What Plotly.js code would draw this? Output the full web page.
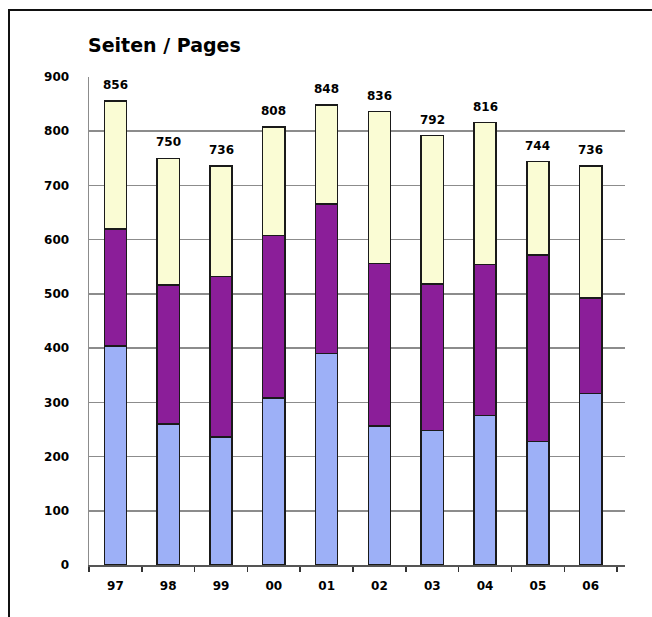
<!DOCTYPE html>
<html>
<head>
<meta charset="utf-8">
<script src="https://cdn.plot.ly/plotly-3.0.1.min.js"></script>
<style>
  html, body { margin: 0; padding: 0; background: #fff; }
  #wrap { position: relative; width: 652px; height: 617px; }
  #chart { width: 652px; height: 617px; }
  #frame { position: absolute; left: 8px; top: 9px; width: 644px; height: 608px;
           border-top: 2px solid #111; border-left: 2px solid #111; box-sizing: border-box; pointer-events: none; }
</style>
</head>
<body>
<div id="wrap">
  <div id="chart"></div>
  <div id="frame"></div>
</div>
<script>
const years = ["97", "98", "99", "00", "01", "02", "03", "04", "05", "06"];
const lowerPart = [404, 260, 236, 308, 390, 256, 248, 276, 228, 316];
const middlePart = [216, 256, 296, 300, 276, 300, 270, 278, 344, 176];
const upperPart = [236, 234, 204, 200, 182, 280, 274, 262, 172, 244];
const totals = [856, 750, 736, 808, 848, 836, 792, 816, 744, 736];

const barLine = { color: "#1a1a1a", width: 1.5 };
const mk = (vals, color) => ({
  type: "bar", x: years, y: vals, width: 0.42,
  marker: { color: color, line: barLine },
  hoverinfo: "skip"
});

const data = [
  mk(lowerPart, "#9db0f7"),
  mk(middlePart, "#8b1e99"),
  mk(upperPart, "#fafcd4")
];

const annotations = years.map((y, i) => ({
  x: i, y: totals[i], xref: "x", yref: "y",
  text: String(totals[i]), showarrow: false,
  yanchor: "middle", yshift: 16,
  font: { family: "DejaVu Sans", size: 12, color: "#000", weight: "bold" }
}));

const layout = {
  width: 652, height: 617,
  margin: { l: 89, r: 27, t: 77, b: 52 },
  paper_bgcolor: "#fff", plot_bgcolor: "#fff",
  barmode: "stack",
  showlegend: false,
  title: {
    text: "Seiten / Pages",
    xref: "container", yref: "container",
    x: 88 / 652, xanchor: "left",
    y: 1 - 45 / 617, yanchor: "middle",
    font: { family: "DejaVu Sans", size: 19, color: "#000", weight: "bold" }
  },
  xaxis: {
    type: "category",
    range: [-0.5, 9.65],
    tickson: "boundaries",
    ticks: "outside", ticklen: 5, tickwidth: 1.5, tickcolor: "#333",
    showline: true, linecolor: "#555", linewidth: 1.5,
    showgrid: false, zeroline: false,
    ticklabelstandoff: 9,
    tickfont: { family: "DejaVu Sans", size: 12, color: "#000", weight: "bold" }
  },
  yaxis: {
    range: [0, 900],
    tickvals: [0, 100, 200, 300, 400, 500, 600, 700, 800, 900],
    showgrid: true, gridcolor: "#8c8c8c", gridwidth: 1.5,
    showline: true, linecolor: "#8c8c8c", linewidth: 1.5,
    zeroline: false,
    ticks: "",
    ticklabelstandoff: 16,
    tickfont: { family: "DejaVu Sans", size: 12, color: "#000", weight: "bold" }
  },
  annotations: annotations
};

Plotly.newPlot("chart", data, layout, { displayModeBar: false, staticPlot: true });
</script>
</body>
</html>
